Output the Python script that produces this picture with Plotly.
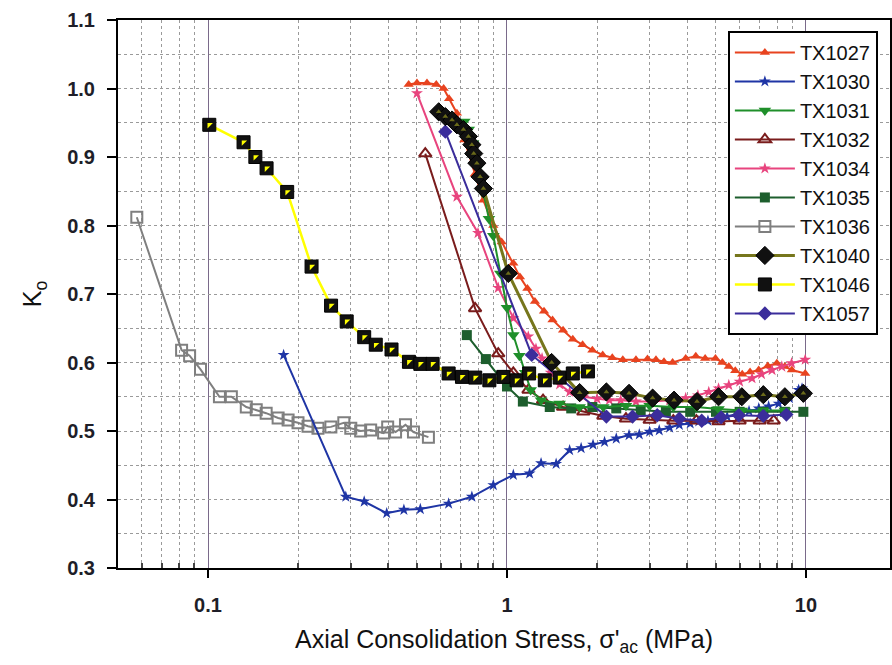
import plotly.graph_objects as go

# ---------------- data ----------------
tx1027_x = [0.469, 0.50, 0.54, 0.58, 0.614, 0.64, 0.68, 0.72, 0.78, 0.833, 0.9, 0.96, 1.05, 1.105, 1.17,
            1.24, 1.33, 1.42, 1.54, 1.66, 1.79, 1.93, 2.09, 2.25, 2.44, 2.7, 2.95, 3.15, 3.35, 3.58,
            3.96, 4.28, 4.6, 4.98, 5.25, 5.52, 5.8, 6.12, 6.5, 6.95, 7.45, 7.99, 8.5, 8.97, 9.94]
tx1027_y = [1.006, 1.008, 1.008, 1.006, 1.0, 0.985, 0.964, 0.925, 0.875, 0.837, 0.80, 0.776, 0.745, 0.725, 0.708,
            0.689, 0.675, 0.662, 0.647, 0.634, 0.626, 0.618, 0.611, 0.607, 0.604, 0.604, 0.605, 0.604, 0.601, 0.600,
            0.606, 0.609, 0.606, 0.606, 0.600, 0.594, 0.588, 0.583, 0.586, 0.589, 0.595, 0.599, 0.594, 0.589, 0.584]

tx1030_x = [0.179, 0.289, 0.333, 0.396, 0.452, 0.513, 0.638, 0.763, 0.90, 1.05, 1.19, 1.30, 1.46, 1.62, 1.77,
            1.94, 2.12, 2.32, 2.56, 2.77, 3.0, 3.23, 3.5, 3.77, 4.1, 4.38, 4.7, 4.98, 5.45, 5.96, 6.45,
            6.95, 7.5, 8.1, 8.8, 9.45, 9.7]
tx1030_y = [0.611, 0.404, 0.397, 0.380, 0.385, 0.386, 0.394, 0.404, 0.421, 0.436, 0.438, 0.453, 0.452, 0.472, 0.475,
            0.480, 0.484, 0.489, 0.494, 0.495, 0.499, 0.501, 0.505, 0.509, 0.511, 0.514, 0.515, 0.516, 0.521, 0.526, 0.529,
            0.533, 0.536, 0.540, 0.548, 0.560, 0.562]

tx1031_x = [0.72, 0.745, 0.77, 0.80, 0.833, 0.87, 0.90, 0.95, 1.0, 1.05, 1.1, 1.15, 1.2, 1.3, 1.5, 1.75,
            2.1, 2.5, 3.0, 3.6, 4.3, 5.1, 6.1, 7.2, 8.5]
tx1031_y = [0.952, 0.94, 0.92, 0.885, 0.847, 0.81, 0.785, 0.73, 0.68, 0.64, 0.61, 0.585, 0.56, 0.545, 0.54, 0.535,
            0.535, 0.537, 0.537, 0.535, 0.535, 0.532, 0.530, 0.530, 0.530]

tx1032_x = [0.533, 0.782, 0.935, 1.05, 1.18, 1.32, 1.54, 1.8, 2.1, 2.5, 3.0, 3.6, 4.3, 5.1, 6.0, 7.0, 7.8]
tx1032_y = [0.905, 0.679, 0.613, 0.585, 0.560, 0.545, 0.535, 0.528, 0.522, 0.518, 0.516, 0.515, 0.515, 0.514,
            0.515, 0.515, 0.515]

tx1034_x = [0.50, 0.68, 0.80, 0.935, 1.05, 1.178, 1.25, 1.31, 1.4, 1.5, 1.62, 1.8, 2.0, 2.2, 2.4, 2.7, 3.06,
            3.5, 3.96, 4.35, 4.73, 5.1, 5.52, 6.0, 6.6, 7.1, 7.7, 8.3, 8.95, 9.94]
tx1034_y = [0.993, 0.842, 0.789, 0.709, 0.665, 0.638, 0.620, 0.606, 0.585, 0.568, 0.557, 0.550, 0.547, 0.545,
            0.545, 0.543, 0.543, 0.545, 0.548, 0.552, 0.557, 0.562, 0.567, 0.572, 0.577, 0.583, 0.589, 0.594,
            0.599, 0.604]

tx1035_x = [0.734, 0.85, 1.0, 1.13, 1.39, 1.64, 1.93, 2.32, 2.8, 3.4, 4.1, 5.0, 6.0, 7.2, 8.5, 9.8]
tx1035_y = [0.640, 0.605, 0.565, 0.543, 0.535, 0.533, 0.535, 0.533, 0.530, 0.528, 0.528, 0.528, 0.528, 0.528,
            0.528, 0.528]

tx1036_x = [0.0578, 0.0816, 0.0868, 0.0944, 0.1092, 0.1197, 0.1343, 0.145, 0.1565, 0.1716, 0.1853, 0.200,
            0.216, 0.2332, 0.2576, 0.2846, 0.3003, 0.324, 0.350, 0.3867, 0.399, 0.424, 0.4576, 0.4866, 0.546]
tx1036_y = [0.812, 0.618, 0.610, 0.590, 0.550, 0.550, 0.535, 0.531, 0.526, 0.519, 0.516, 0.512, 0.507, 0.504,
            0.506, 0.512, 0.504, 0.500, 0.5015, 0.497, 0.506, 0.4985, 0.509, 0.4985, 0.491]

tx1040_x = [0.591, 0.622, 0.655, 0.68, 0.715, 0.743, 0.763, 0.774, 0.793, 0.813, 0.834, 1.01, 1.41, 1.75,
            2.15, 2.56, 3.07, 3.62, 4.32, 5.1, 6.1, 7.2, 8.5, 9.8]
tx1040_y = [0.966, 0.959, 0.954, 0.947, 0.940, 0.930, 0.918, 0.905, 0.891, 0.871, 0.854, 0.730, 0.600, 0.556,
            0.557, 0.555, 0.548, 0.545, 0.543, 0.550, 0.550, 0.553, 0.550, 0.555]

tx1046_x = [0.101, 0.1315, 0.144, 0.157, 0.184, 0.222, 0.258, 0.291, 0.333, 0.364, 0.411, 0.47, 0.513, 0.564,
            0.638, 0.707, 0.783, 0.873, 0.972, 1.077, 1.186, 1.338, 1.5, 1.66, 1.865]
tx1046_y = [0.947, 0.9215, 0.900, 0.8835, 0.849, 0.740, 0.683, 0.660, 0.637, 0.626, 0.619, 0.601, 0.598, 0.598,
            0.584, 0.579, 0.578, 0.574, 0.579, 0.574, 0.584, 0.574, 0.578, 0.584, 0.587]

tx1057_x = [0.622, 1.21, 2.15, 2.63, 3.18, 3.77, 4.48, 5.2, 5.96, 7.2, 8.6]
tx1057_y = [0.937, 0.611, 0.521, 0.521, 0.523, 0.518, 0.515, 0.520, 0.523, 0.522, 0.524]

x_major_ticks = [0.1, 1, 10]
x_major_labels = ["0.1", "1", "10"]
x_minor_ticks = [0.06, 0.07, 0.08, 0.09, 0.2, 0.3, 0.4, 0.5, 0.6, 0.7, 0.8, 0.9,
                 2, 3, 4, 5, 6, 7, 8, 9]

# ---------------- figure ----------------
fig = go.Figure()

def add(name, xs, ys, color, symbol, size, lwidth=1.8, mcolor=None, mline=None, mlw=0, rank=0):
    fig.add_trace(go.Scatter(
        x=xs, y=ys, name=name, mode="lines+markers", legendgroup=name, legendrank=rank,
        line=dict(color=color, width=lwidth),
        marker=dict(symbol=symbol, size=size, color=mcolor or color,
                    line=dict(color=mline or color, width=mlw)),
    ))

# draw order (bottom -> top)
add("TX1036", tx1036_x, tx1036_y, "#7f7f7f", "square-open", 11, 2, mlw=2, rank=7)
add("TX1030", tx1030_x, tx1030_y, "#1f35a5", "star", 9, 2, rank=2)
add("TX1027", tx1027_x, tx1027_y, "#e8431f", "triangle-up", 9, 2, rank=1)
add("TX1032", tx1032_x, tx1032_y, "#7a1c1c", "triangle-up-open", 11, 2, mlw=2, rank=4)
add("TX1034", tx1034_x, tx1034_y, "#e8447e", "star", 9, 2, rank=5)
add("TX1035", tx1035_x, tx1035_y, "#1d5e2d", "square", 10, 2, rank=6)
add("TX1031", tx1031_x, tx1031_y, "#1f8f2a", "triangle-down", 11, 2, rank=3)
add("TX1057", tx1057_x, tx1057_y, "#3b2d9b", "diamond", 11, 2, rank=10)
add("TX1040", tx1040_x, tx1040_y, "#76761c", "diamond", 14, 3, mcolor="#111111", mline="#000000", mlw=1, rank=8)
fig.add_trace(go.Scatter(x=tx1040_x, y=tx1040_y, mode="markers", showlegend=False, hoverinfo="skip",
                         marker=dict(symbol="triangle-up", size=5, color="#6b6b1a")))
add("TX1046", tx1046_x, tx1046_y, "#ffff00", "square", 13, 2.5, mcolor="#111111", mline="#000000", mlw=1, rank=9)
fig.add_trace(go.Scatter(x=tx1046_x, y=tx1046_y, mode="markers", showlegend=False, hoverinfo="skip",
                         marker=dict(symbol="triangle-nw", size=6, color="#ffff00")))

axis_font = dict(family="Liberation Sans, Arial", size=20, color="#1e1e28", weight="bold")

fig.update_xaxes(
    type="log", range=[-1.301, 1.281],
    tickvals=x_major_ticks, ticktext=x_major_labels,
    ticks="outside", ticklen=8, tickwidth=2, tickcolor="#000",
    tickfont=axis_font, ticklabelstandoff=10,
    showgrid=True, gridcolor="#7a6a8a", gridwidth=1,
    minor=dict(tickvals=x_minor_ticks, ticks="inside", ticklen=5, tickcolor="#444",
               showgrid=True, gridcolor="#9a9a9a", griddash="dot", gridwidth=1),
    showline=True, linecolor="#000", linewidth=2, mirror=True,
    zeroline=False,
    title=dict(text="Axial Consolidation Stress, σ'<sub>ac</sub> (MPa)",
               font=dict(family="Liberation Sans, Arial", size=25, color="#111"), standoff=15),
)
fig.update_yaxes(
    range=[0.3, 1.1], dtick=0.1, tickformat=".1f",
    ticks="outside", ticklen=9, tickwidth=2, tickcolor="#000",
    tickfont=axis_font, ticklabelstandoff=8,
    showgrid=True, gridcolor="#9a9a9a", griddash="dot", gridwidth=1,
    minor=dict(dtick=0.05, ticks="", showgrid=True, gridcolor="#9a9a9a", griddash="dot", gridwidth=1),
    showline=True, linecolor="#000", linewidth=2, mirror=True,
    zeroline=False,
    title=dict(text="K<sub>o</sub>", font=dict(family="Liberation Sans, Arial", size=25, color="#111"),
               standoff=18),
)

fig.update_layout(
    width=892, height=665,
    margin=dict(l=118, r=0, t=20, b=97),
    plot_bgcolor="white", paper_bgcolor="white",
    showlegend=True,
    legend=dict(x=0.79, y=0.98, xanchor="left", yanchor="top",
                bgcolor="white", bordercolor="#000", borderwidth=2,
                font=dict(family="Liberation Sans, Arial", size=20, color="#111"),
                tracegroupgap=16, itemwidth=60, traceorder="normal"),
)

fig.write_html("out.html")
